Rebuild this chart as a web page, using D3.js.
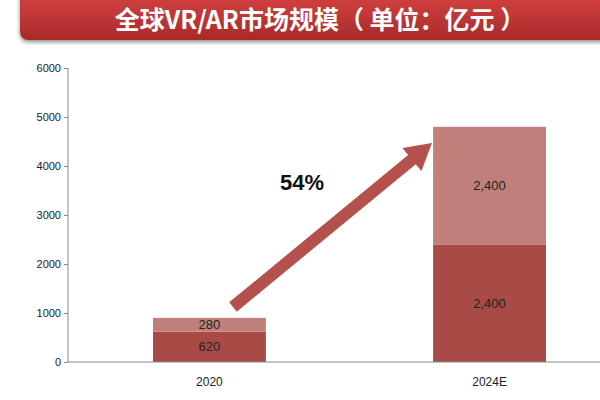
<!DOCTYPE html><html><head><meta charset="utf-8">
<script src="https://cdn.jsdelivr.net/npm/d3@7"></script>
<style>body{margin:0;background:#fff}</style></head><body>
<script>
const categories=["2020","2024E"];
const lower=[620,2400];
const upper=[280,2400];
const yTicks=[0,1000,2000,3000,4000,5000,6000];
const title="全球VR/AR市场规模（ 单位：亿元 ）";
const growth="54%";

const svg=d3.select("body").append("svg").attr("width",600).attr("height",400);
const defs=svg.append("defs");
const g=defs.append("linearGradient").attr("id","bg").attr("x1",0).attr("y1",0).attr("x2",0).attr("y2",1);
g.append("stop").attr("offset",0).attr("stop-color","#d84444");
g.append("stop").attr("offset",1).attr("stop-color","#a82a2a");
const f=defs.append("filter").attr("id","sh");
f.append("feDropShadow").attr("dx",0).attr("dy",2).attr("stdDeviation",2).attr("flood-color","#888");
svg.append("rect").attr("x",20).attr("y",-10).attr("width",600).attr("height",50).attr("rx",8).attr("fill","url(#bg)").attr("filter","url(#sh)");
svg.append("text").attr("x",320).attr("y",29).attr("text-anchor","middle").attr("fill","#fff")
 .attr("font-family","Noto Sans CJK SC").attr("font-weight","bold").attr("font-size",25).text(title);

const y=d3.scaleLinear().domain([0,6000]).range([362,68]);
const x=d3.scaleBand().domain(categories).range([153,546]).paddingInner(0.597).paddingOuter(0);
const ax=svg.append("g").attr("transform","translate(68,0)").call(d3.axisLeft(y).tickValues(yTicks).tickSize(4).tickFormat(d3.format("d")));
ax.selectAll("text").attr("font-family","Liberation Sans Narrow, Liberation Sans").attr("font-size",11).attr("fill","#222");
ax.selectAll("line,path").attr("stroke","#888");
ax.select("path").attr("d","M0,362V68");

const colsL="#a84a46", colsU="#c17f7c";
categories.forEach((c,i)=>{
  const bx=x(c), bw=x.bandwidth();
  svg.append("rect").attr("x",bx).attr("width",bw).attr("y",y(lower[i])).attr("height",y(0)-y(lower[i])).attr("fill",colsL);
  svg.append("rect").attr("x",bx).attr("width",bw).attr("y",y(lower[i]+upper[i])).attr("height",y(lower[i])-y(lower[i]+upper[i])).attr("fill",colsU);
  const t=(v,yy)=>svg.append("text").attr("x",bx+bw/2).attr("y",yy).attr("text-anchor","middle").attr("dominant-baseline","central")
    .attr("font-family","Liberation Sans Narrow, Liberation Sans").attr("font-size",13).attr("fill","#222").text(d3.format(",")(v));
  t(lower[i],(y(0)+y(lower[i]))/2);
  t(upper[i],(y(lower[i])+y(lower[i]+upper[i]))/2);
  svg.append("text").attr("x",bx+bw/2).attr("y",386).attr("text-anchor","middle").attr("font-family","Liberation Sans Narrow, Liberation Sans").attr("font-size",12).attr("fill","#222").text(c);
});
svg.append("line").attr("x1",68).attr("x2",600).attr("y1",362).attr("y2",362).attr("stroke","#888");

const x0=233,y0=307,x1=432,y1=143;
const ang=Math.atan2(y1-y0,x1-x0), L=Math.hypot(x1-x0,y1-y0);
const a=svg.append("g").attr("transform",`translate(${x0},${y0}) rotate(${ang*180/Math.PI})`);
a.append("path").attr("d",`M0,-6 L${L-26},-6 L${L-26},-15 L${L},0 L${L-26},15 L${L-26},6 L0,6 Z`).attr("fill","#b4514c");
svg.append("text").attr("x",302).attr("y",190).attr("text-anchor","middle").attr("font-family","Liberation Sans").attr("font-weight","bold").attr("font-size",22).attr("fill","#111").text(growth);
</script></body></html>
